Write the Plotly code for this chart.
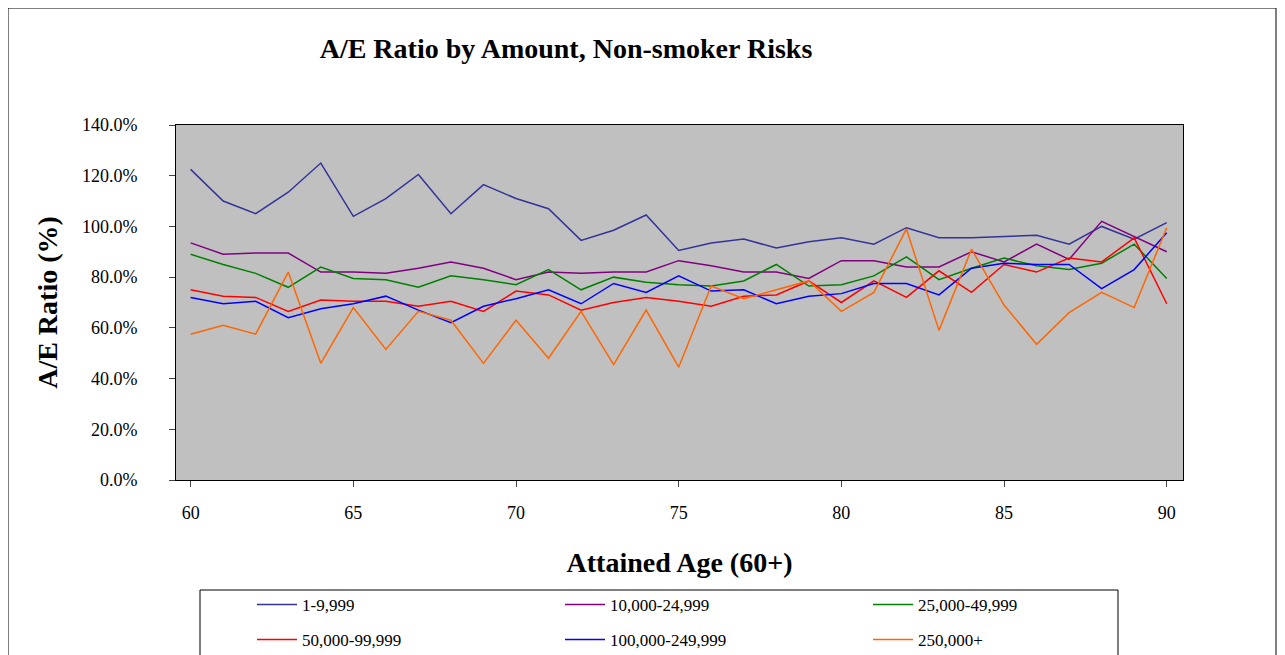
import plotly.graph_objects as go

ages = list(range(60, 91))
names = ["1-9,999", "10,000-24,999", "25,000-49,999", "50,000-99,999", "100,000-249,999", "250,000+"]
colors = ["#333399", "#800080", "#008000", "#FF0000", "#0000FF", "#FF6600"]
s1 = [122.5,110,105,113.5,125,104,111,120.5,105,116.5,111,107,94.5,98.5,104.5,90.5,93.5,95,91.5,94,95.5,93,99.5,95.5,95.5,96,96.5,93,100,95,101.5]
s2 = [93.5,89,89.5,89.5,82,82,81.5,83.5,86,83.5,79,82,81.5,82,82,86.5,84.5,82,82,79.5,86.5,86.5,84,84,90,86,93,87,102,96,90]
s3 = [89,85,81.5,76,84,79.5,79,76,80.5,79,77,83,75,80,78,77,76.5,78.5,85,76.5,77,80.5,88,79,83.5,87.5,84.5,83,85.5,93,79.5]
s4 = [75,72.5,72,66.5,71,70.5,70.5,68.5,70.5,66.5,74.5,73,67,70,72,70.5,68.5,72.5,73,78.5,70,78.5,72,82.5,74,85,82,87.5,86,95.5,69.5]
s5 = [72,69.5,70.5,64,67.5,69.5,72.5,67,62,68.5,71.5,75,69.5,77.5,74,80.5,74.5,75,69.5,72.5,73.5,77.5,77.5,73,83.5,85.5,85,85,75.5,83,97.5]
s6 = [57.5,61,57.5,82,46,68,51.5,66.5,63,46,63,48,66.5,45.5,67,44.5,76.5,71.5,75,78.5,66.5,74,99,59,91,69,53.5,66,74,68,99.5]
series = [s1, s2, s3, s4, s5, s6]
yticks = [0, 20, 40, 60, 80, 100, 120, 140]

fig = go.Figure()
for i, (n, c, s) in enumerate(zip(names, colors, series)):
    fig.add_trace(go.Scatter(x=ages, y=s, mode="lines", name=n, line=dict(color=c, width=1.5),
                             legend="legend" if i < 3 else "legend2"))

W, H = 1007, 355
L, T = 168, 117
font = "Liberation Serif, Times New Roman, serif"
leg = dict(orientation="h", x=(252-8-L)/W, xanchor="left", yanchor="middle",
           entrywidth=253, bgcolor="rgba(0,0,0,0)", font=dict(size=17), itemwidth=40)
fig.update_layout(
    width=1285, height=655, paper_bgcolor="white", plot_bgcolor="#C0C0C0",
    margin=dict(l=L, r=1285-L-W, t=T, b=655-T-H, autoexpand=False),
    font=dict(family=font, size=18, color="black"),
    title=dict(text="<b>A/E Ratio by Amount, Non-smoker Risks</b>", x=(566-8)/1285, xanchor="center",
               y=1-40/655, yanchor="middle", font=dict(size=28)),
    xaxis=dict(range=[59.55, 90.5], tickvals=[60,65,70,75,80,85,90], showgrid=False,
               ticks="outside", ticklen=6, showline=True, linecolor="black", mirror=True,
               ticklabelstandoff=10,
               title=dict(text="<b>Attained Age (60+)</b>", font=dict(size=28), standoff=30), zeroline=False),
    yaxis=dict(range=[0, 140], tickvals=yticks, ticktext=[f"{v:.1f}%" for v in yticks], showgrid=False,
               ticks="outside", ticklen=6, showline=True, linecolor="black", mirror=True,
               ticklabelstandoff=28,
               title=dict(text="<b>A/E Ratio (%)</b>", font=dict(size=28), standoff=16), zeroline=False),
    legend=dict(leg, y=-(605-8-T-H)/H),
    legend2=dict(leg, y=-(640-8-T-H)/H),
    shapes=[dict(type="rect", xref="paper", yref="paper", x0=-L/W, x1=1+(1268-L-W)/W,
                 y0=-(660-T-H)/H, y1=1+T/H, line=dict(color="black", width=1)),
            dict(type="rect", xref="paper", yref="paper", x0=(192-L)/W, x1=(1110-L)/W,
                 y0=-(680-T-H)/H, y1=-(582-T-H)/H, line=dict(color="black", width=1))],
)
fig.write_html("out.html")
